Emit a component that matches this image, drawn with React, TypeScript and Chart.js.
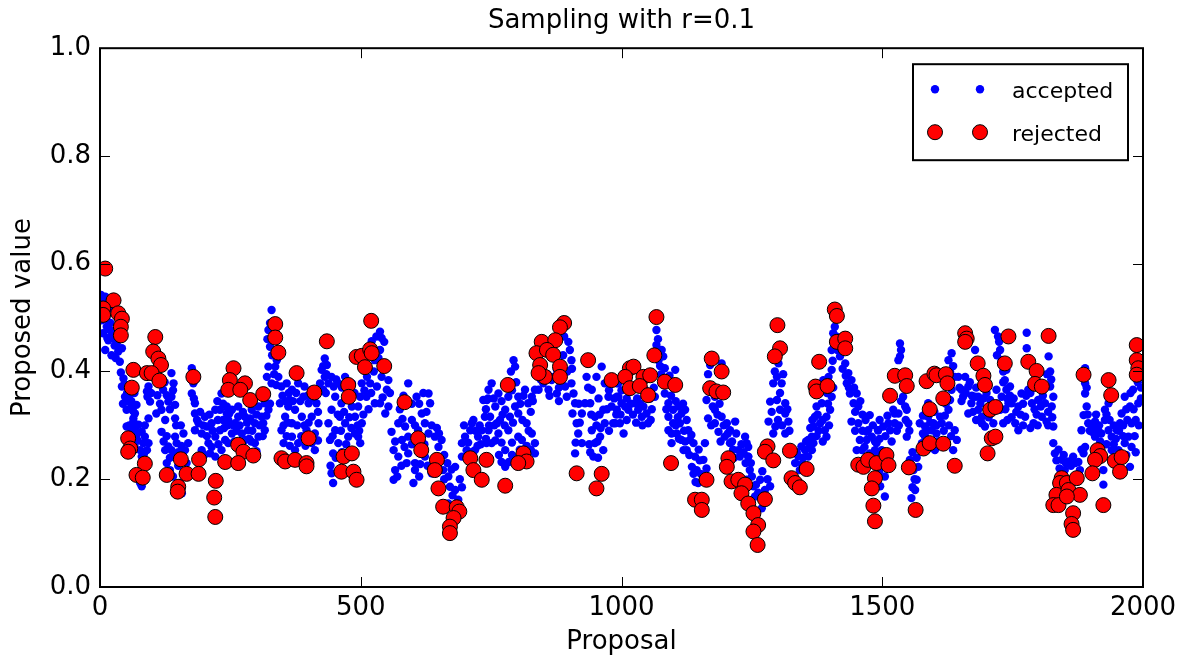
import React, { useEffect, useRef } from "react";
import { Chart, registerables } from "chart.js";

Chart.register(...registerables);

const chartTitle = "Sampling with r=0.1";
const xAxisLabel = "Proposal";
const yAxisLabel = "Proposed value";
const seriesNames = ["accepted", "rejected"];
const xTicks = [0, 500, 1000, 1500, 2000];
const yTicks = [0, 0.2, 0.4, 0.6, 0.8, 1.0];

type Pt = [number, number];

// accepted proposals (proposal index, value)
const accepted0: Pt[] = [
  [2,0.542],[10,0.539],[5,0.523],[16,0.517],[3,0.495],[13,0.483],[6,0.471],[19,0.477],[16,0.458],[10,0.440],[26,0.461],[32,0.452],[42,0.443],[38,0.418],
  [45,0.387],[42,0.372],[48,0.353],[54,0.344],[61,0.335],[51,0.329],[67,0.322],[64,0.313],[70,0.338],[58,0.365],
  [51,0.298],[64,0.307],[74,0.301],[80,0.288],[86,0.279],[93,0.313],[70,0.282],[83,0.267],[90,0.254],[80,0.242],[61,0.291],[77,0.254],[77,0.193],[80,0.187],
  [93,0.372],[96,0.344],[91,0.353],[118,0.329],[121,0.366],[137,0.397],[141,0.378],[137,0.353],[144,0.338],[125,0.310],[144,0.313],[131,0.344],[90,0.363],
  [118,0.288],[125,0.254],[131,0.261],[137,0.254],[144,0.279],[147,0.267],[160,0.285],[163,0.254],[166,0.230],[157,0.174],[153,0.193],[128,0.230],[134,0.217],[169,0.267],[141,0.242],
  [176,0.406],[179,0.378],[176,0.359],[182,0.341],[173,0.390],
  [182,0.322],[189,0.304],[201,0.316],[205,0.298],[221,0.329],[230,0.329],[236,0.310],[230,0.291],[240,0.273],[221,0.279],[208,0.267],[195,0.254],[189,0.230],[211,0.248],[221,0.242],[233,0.254],[182,0.291],[243,0.322],[233,0.359],[214,0.304],[195,0.285],
  [4,0.530],[8,0.505],[12,0.498],[20,0.490],[24,0.470],[28,0.448],[35,0.437],[14,0.462],[22,0.430],[30,0.425],
  [40,0.398],[47,0.376],[52,0.360],[56,0.350],[63,0.327],[60,0.345],[66,0.360],[44,0.340],
  [56,0.300],[68,0.296],[72,0.272],[86,0.300],[84,0.246],[93,0.267],[66,0.262],[88,0.232],
  [98,0.360],[104,0.388],[110,0.356],[115,0.340],[128,0.356],[134,0.330],[140,0.365],[108,0.322],[124,0.380],
  [122,0.270],[128,0.280],[134,0.240],[150,0.250],[156,0.262],[160,0.210],[150,0.225],[140,0.205],[146,0.300],[155,0.300],
  [178,0.395],[180,0.350],
  [186,0.310],[192,0.325],[198,0.300],[205,0.280],[210,0.320],[216,0.290],[226,0.310],[227,0.265],[238,0.295],[245,0.300],[200,0.245],[214,0.260],[236,0.340],[225,0.345],
];
const accepted1: Pt[] = [
  [329,0.514],[323,0.477],[326,0.446],[323,0.409],[320,0.390],[329,0.378],[339,0.421],[336,0.409],[342,0.390],
  [243,0.335],[253,0.329],[265,0.335],[246,0.310],[259,0.304],[278,0.316],[291,0.329],[304,0.335],[316,0.341],[323,0.329],[310,0.316],[297,0.304],[284,0.291],[272,0.285],[253,0.285],[246,0.267],[304,0.279],[316,0.291],[297,0.267],[278,0.273],[265,0.316],[288,0.313],[313,0.304],
  [348,0.372],[358,0.378],[368,0.366],[380,0.378],[390,0.353],[400,0.341],[406,0.366],[415,0.341],[422,0.378],[345,0.341],[361,0.335],[374,0.329],[355,0.316],[368,0.304],[387,0.316],[406,0.316],[419,0.304],[348,0.291],[368,0.279],[380,0.267],[396,0.291],[406,0.267],[352,0.267],[374,0.254],[412,0.254],[364,0.347],
  [431,0.424],[435,0.412],[425,0.403],[431,0.390],[438,0.378],[428,0.366],
  [444,0.390],[457,0.378],[470,0.390],[483,0.378],[451,0.353],[463,0.341],[444,0.329],[438,0.304],[451,0.291],[470,0.304],[489,0.316],[495,0.335],[441,0.273],[457,0.267],[476,0.279],[489,0.285],[447,0.248],[444,0.211],[447,0.193],[460,0.316],[483,0.335],
  [248,0.322],[256,0.300],[262,0.290],[268,0.300],[274,0.325],[282,0.305],[286,0.275],[292,0.290],[300,0.320],[306,0.300],[312,0.280],[319,0.318],[258,0.270],[270,0.260],[290,0.270],[300,0.252],[326,0.340],
  [326,0.490],[321,0.460],[330,0.430],[334,0.395],[338,0.375],
  [350,0.355],[356,0.345],[362,0.360],[370,0.345],[376,0.360],[384,0.345],[392,0.372],[398,0.355],[410,0.350],[418,0.325],[352,0.300],[360,0.305],[378,0.300],[392,0.300],[400,0.305],[412,0.285],[358,0.280],[386,0.280],[364,0.262],[394,0.262],[418,0.272],
  [428,0.410],[434,0.395],[433,0.360],
  [448,0.372],[453,0.385],[464,0.370],[476,0.365],[488,0.360],[456,0.320],[468,0.325],[478,0.315],[494,0.300],[446,0.280],[462,0.290],[482,0.295],[452,0.240],[442,0.225],[464,0.250],[472,0.265],
];
const accepted2: Pt[] = [
  [537,0.474],[540,0.462],[521,0.456],[537,0.440],[527,0.421],[518,0.378],[502,0.378],[540,0.390],[553,0.384],[531,0.372],[550,0.366],[511,0.353],[537,0.341],[553,0.335],[499,0.353],[547,0.322],[502,0.304],[495,0.279],[499,0.267],[527,0.341],
  [591,0.378],[607,0.353],[630,0.359],[633,0.341],[572,0.304],[585,0.298],[598,0.310],[617,0.322],[623,0.304],[559,0.288],[579,0.273],[591,0.279],[610,0.291],[630,0.285],[642,0.279],[655,0.273],[563,0.254],[572,0.242],[591,0.248],[604,0.230],[623,0.242],[566,0.217],[563,0.199],[601,0.193],[604,0.217],[636,0.211],[658,0.217],[668,0.205],[681,0.223],[671,0.186],[681,0.180],[687,0.162],[668,0.155],[649,0.260],
  [694,0.267],[700,0.279],[710,0.291],[713,0.304],[725,0.279],[732,0.291],[738,0.316],[735,0.347],[745,0.366],[719,0.254],[703,0.254],[741,0.267],[694,0.242],
  [530,0.465],[545,0.455],[534,0.425],[546,0.405],[525,0.400],[512,0.390],[507,0.365],[520,0.360],[542,0.352],[556,0.360],[515,0.330],[505,0.320],[497,0.290],
  [575,0.330],[582,0.355],[598,0.340],[612,0.340],[620,0.360],[626,0.325],[580,0.312],[604,0.300],[566,0.270],[584,0.260],[598,0.265],[615,0.270],[622,0.265],[636,0.300],[646,0.295],[650,0.285],[578,0.225],[588,0.230],[614,0.228],[628,0.225],[646,0.240],[660,0.245],[666,0.230],[674,0.218],[690,0.200],[694,0.185],[676,0.170],[660,0.200],[570,0.205],[612,0.205],
  [698,0.300],[706,0.268],[716,0.310],[720,0.290],[728,0.300],[730,0.265],[740,0.330],[746,0.300],[712,0.250],[724,0.262],[744,0.350],
];
const accepted3: Pt[] = [
  [793,0.421],[796,0.409],[751,0.378],[764,0.359],[783,0.353],[802,0.353],[742,0.347],[758,0.335],[777,0.329],[796,0.335],[821,0.341],[834,0.366],[815,0.366],[748,0.316],[767,0.310],[786,0.316],[802,0.322],[818,0.304],[745,0.291],[764,0.285],[783,0.291],[802,0.279],[828,0.285],[834,0.267],[751,0.267],[777,0.254],[809,0.273],[834,0.248],[777,0.223],[761,0.304],
  [898,0.455],[901,0.440],[904,0.421],[876,0.403],[885,0.378],[860,0.366],[841,0.366],[828,0.353],[876,0.359],[904,0.378],[866,0.384],[850,0.378],[895,0.353],
  [908,0.359],[911,0.341],[924,0.322],[914,0.304],[917,0.285],[924,0.267],[911,0.248],[930,0.341],
  [933,0.390],[943,0.366],[940,0.341],[949,0.316],[943,0.291],[949,0.267],[946,0.242],[962,0.409],[968,0.378],[975,0.353],[965,0.329],[981,0.335],[968,0.304],[984,0.304],[991,0.353],[994,0.378],[959,0.279],[965,0.254],
  [755,0.350],[770,0.345],[790,0.365],[798,0.380],[788,0.400],[806,0.340],[812,0.355],[826,0.325],[830,0.345],[772,0.320],[792,0.305],[810,0.310],[756,0.300],[776,0.300],[822,0.290],[740,0.275],[758,0.272],[770,0.268],[790,0.268],[818,0.262],[826,0.255],[765,0.245],[790,0.245],[805,0.255],[770,0.232],[784,0.232],
  [845,0.385],[858,0.395],[870,0.390],[880,0.370],[892,0.372],[896,0.400],[888,0.430],[905,0.405],[862,0.355],[880,0.345],[890,0.465],
  [906,0.322],[918,0.340],[920,0.305],[912,0.268],
  [936,0.370],[942,0.320],[952,0.390],[956,0.350],[958,0.320],[972,0.330],[976,0.365],[986,0.350],[990,0.320],[952,0.300],[960,0.295],[976,0.290],[938,0.265],[954,0.270],[955,0.240],[940,0.250],
];
const accepted4: Pt[] = [
  [991,0.378],[994,0.353],[1000,0.341],[991,0.329],[1007,0.335],[997,0.304],[1004,0.285],[1013,0.329],[1026,0.341],[1032,0.329],[1039,0.316],[1048,0.322],[1051,0.304],[1045,0.366],[1055,0.350],[1064,0.353],[988,0.304],
  [1067,0.477],[1067,0.449],[1077,0.440],[1071,0.421],[1080,0.428],[1083,0.406],[1103,0.403],
  [1083,0.359],[1090,0.341],[1099,0.329],[1109,0.335],[1115,0.322],[1122,0.329],[1090,0.316],[1099,0.304],[1112,0.304],[1125,0.310],[1090,0.291],[1106,0.285],[1115,0.273],[1128,0.291],[1131,0.273],[1096,0.267],[1119,0.254],[1125,0.254],[1138,0.267],[1141,0.242],[1135,0.223],[1144,0.217],[1147,0.193],[1157,0.236],[1160,0.267],[1163,0.220],
  [1170,0.412],[1192,0.415],[1163,0.347],[1179,0.353],[1166,0.313],[1179,0.304],[1192,0.316],[1202,0.304],[1186,0.288],[1198,0.279],[1208,0.291],[1218,0.307],[1208,0.267],[1224,0.254],[1237,0.279],[1227,0.242],[1243,0.242],[1243,0.260],[1179,0.329],
  [1000,0.365],[1010,0.350],[1018,0.340],[1022,0.320],[1030,0.350],[1036,0.340],[1042,0.335],[1058,0.330],[1062,0.370],[1020,0.365],[1028,0.305],[1010,0.310],[998,0.320],[1040,0.300],[1056,0.310],
  [1070,0.460],[1074,0.410],[1076,0.395],[1086,0.385],[1092,0.392],
  [1086,0.330],[1095,0.355],[1104,0.345],[1108,0.315],[1118,0.340],[1104,0.300],[1120,0.290],[1096,0.285],[1110,0.275],[1122,0.270],[1134,0.282],[1130,0.245],[1148,0.255],[1150,0.235],[1138,0.210],[1152,0.210],[1142,0.195],
  [1166,0.395],[1168,0.375],[1175,0.335],[1172,0.300],[1184,0.320],[1188,0.340],[1196,0.300],[1190,0.270],[1204,0.285],[1212,0.270],[1214,0.255],[1220,0.285],[1230,0.265],[1234,0.250],[1238,0.230],[1216,0.240],
];
const accepted5: Pt[] = [
  [1240,0.267],[1243,0.242],[1246,0.217],[1240,0.199],[1253,0.187],
  [1266,0.199],[1275,0.180],[1256,0.168],[1269,0.146],[1285,0.187],
  [1301,0.415],[1298,0.390],[1291,0.378],[1307,0.378],[1285,0.344],[1298,0.347],[1304,0.329],[1314,0.341],[1314,0.322],[1282,0.307],[1320,0.307],[1291,0.285],[1314,0.285],
  [1339,0.242],[1345,0.261],[1352,0.254],[1358,0.273],[1365,0.279],[1368,0.298],[1371,0.316],[1374,0.335],[1384,0.341],[1381,0.304],[1393,0.316],[1390,0.291],[1400,0.329],[1403,0.353],[1403,0.403],[1397,0.390],[1387,0.384],[1393,0.279],[1368,0.267],[1358,0.242],[1333,0.230],[1342,0.217],[1365,0.254],
  [1409,0.483],[1406,0.471],[1409,0.455],[1403,0.440],[1419,0.428],
  [1429,0.415],[1435,0.397],[1432,0.378],[1441,0.384],[1438,0.359],[1451,0.359],[1445,0.341],[1454,0.335],[1476,0.319],[1441,0.307],[1454,0.304],[1470,0.288],[1473,0.291],[1457,0.273],[1470,0.273],[1480,0.279],[1492,0.291],[1461,0.254],[1476,0.248],[1451,0.254],
  [1248,0.230],[1250,0.205],[1258,0.190],[1262,0.175],[1272,0.160],[1280,0.200],[1270,0.215],
  [1294,0.400],[1304,0.360],[1310,0.395],[1288,0.325],[1300,0.310],[1308,0.300],[1318,0.330],[1295,0.298],[1322,0.290],
  [1336,0.250],[1348,0.240],[1354,0.270],[1362,0.295],[1366,0.310],[1376,0.320],[1378,0.290],[1386,0.310],[1396,0.340],[1398,0.300],[1406,0.370],[1394,0.360],[1380,0.360],[1374,0.280],[1386,0.270],[1346,0.228],[1360,0.258],
  [1412,0.465],[1405,0.420],[1414,0.440],
  [1424,0.405],[1430,0.392],[1436,0.370],[1446,0.370],[1448,0.325],[1458,0.345],[1462,0.320],[1468,0.310],[1448,0.290],[1462,0.290],[1482,0.300],[1486,0.270],[1466,0.260],[1488,0.250],[1495,0.275],
];
const accepted6: Pt[] = [
  [1492,0.291],[1502,0.298],[1512,0.304],[1489,0.267],[1499,0.254],[1515,0.291],[1524,0.304],[1531,0.322],[1521,0.329],[1505,0.205],[1505,0.168],[1496,0.187],[1486,0.254],
  [1534,0.452],[1534,0.428],[1531,0.421],[1540,0.353],[1544,0.335],[1547,0.329],[1524,0.322],[1550,0.304],[1547,0.279],
  [1553,0.236],[1560,0.217],[1566,0.199],[1563,0.180],[1556,0.165],[1569,0.223],
  [1572,0.304],[1582,0.298],[1588,0.316],[1598,0.304],[1614,0.304],[1604,0.285],[1582,0.279],[1595,0.291],[1576,0.267],[1601,0.254],[1627,0.329],[1630,0.347],[1633,0.366],[1627,0.421],[1633,0.434],[1639,0.390],[1639,0.291],[1643,0.273],[1636,0.254],[1588,0.341],[1611,0.316],
  [1646,0.390],[1652,0.366],[1659,0.390],[1655,0.353],[1665,0.372],[1678,0.353],[1671,0.341],[1684,0.329],[1665,0.322],[1691,0.304],[1697,0.298],[1684,0.353],[1678,0.440],[1716,0.477],[1722,0.465],[1726,0.440],[1729,0.421],[1738,0.403],[1738,0.366],[1729,0.353],[1719,0.366],[1726,0.329],[1732,0.304],[1742,0.341],[1707,0.347],[1691,0.316],[1713,0.304],
  [1495,0.310],[1506,0.280],[1510,0.318],[1518,0.270],[1528,0.290],[1500,0.230],[1494,0.215],
  [1536,0.440],[1538,0.395],[1542,0.370],[1536,0.345],[1545,0.310],[1552,0.290],[1532,0.300],
  [1558,0.250],[1562,0.200],[1566,0.240],[1558,0.185],
  [1578,0.318],[1586,0.290],[1592,0.305],[1600,0.325],[1604,0.300],[1608,0.270],[1618,0.290],[1620,0.318],[1622,0.340],[1628,0.300],[1632,0.280],[1630,0.400],[1636,0.410],[1578,0.285],[1596,0.268],[1614,0.262],[1624,0.265],[1586,0.255],
  [1648,0.370],[1652,0.345],[1660,0.360],[1668,0.380],[1672,0.355],[1680,0.370],[1688,0.340],[1694,0.350],[1700,0.330],[1704,0.315],[1712,0.330],[1720,0.340],[1732,0.380],[1736,0.330],[1740,0.310],[1724,0.455],[1720,0.430],[1732,0.400],[1674,0.325],[1700,0.360],[1680,0.310],[1745,0.355],
];
const accepted7: Pt[] = [
  [1777,0.472],[1777,0.443],[1735,0.384],[1745,0.372],[1748,0.341],[1761,0.335],[1767,0.359],[1780,0.366],[1787,0.341],[1799,0.347],[1812,0.341],[1825,0.335],[1819,0.428],[1822,0.400],[1822,0.372],[1828,0.353],[1755,0.304],[1774,0.316],[1790,0.304],[1806,0.316],[1815,0.307],[1828,0.298],[1761,0.291],
  [1828,0.267],[1831,0.248],[1844,0.236],[1857,0.233],[1870,0.230],[1850,0.217],[1879,0.217],[1886,0.248],[1889,0.260],[1924,0.190],
  [1889,0.406],[1889,0.378],[1889,0.359],[1892,0.335],[1886,0.319],[1895,0.304],[1882,0.291],[1902,0.288],[1908,0.307],[1914,0.291],[1908,0.279],[1927,0.329],[1934,0.341],[1927,0.310],[1940,0.279],[1950,0.291],[1956,0.304],[1965,0.353],[1975,0.335],[1978,0.304],[1972,0.279],[1978,0.260],[1965,0.267],[1981,0.366],[1991,0.341],[1953,0.254],[1975,0.223],[1959,0.322],[1934,0.291],[1924,0.217],[1940,0.254],[1998,0.400],[1996,0.370],
  [1752,0.350],[1757,0.325],[1765,0.320],[1770,0.340],[1776,0.355],[1784,0.360],[1792,0.330],[1796,0.320],[1804,0.335],[1808,0.355],[1818,0.325],[1818,0.300],[1826,0.315],[1816,0.395],[1824,0.385],[1770,0.300],[1784,0.295],[1748,0.315],[1740,0.350],[1798,0.300],
  [1834,0.235],[1838,0.255],[1848,0.245],[1852,0.230],[1862,0.225],[1866,0.242],[1876,0.232],[1882,0.255],[1840,0.220],
  [1886,0.390],[1892,0.370],[1894,0.320],[1898,0.290],[1904,0.300],[1910,0.320],[1916,0.300],[1920,0.285],[1930,0.320],[1936,0.310],[1944,0.300],[1948,0.275],[1954,0.290],[1962,0.300],[1968,0.330],[1970,0.310],[1982,0.330],[1986,0.310],[1984,0.280],[1992,0.300],[1996,0.350],[1962,0.280],[1944,0.265],[1930,0.265],[1918,0.270],[1968,0.245],[1986,0.250],[1990,0.380],[1976,0.360],
];

// rejected proposals (proposal index, value)
const rejected0: Pt[] = [
  [10,0.591],[26,0.532],[6,0.517],[6,0.505],[35,0.508],[42,0.498],[40,0.483],[40,0.467],[64,0.403],[61,0.370],[106,0.464],[102,0.437],[112,0.424],[117,0.412],[90,0.397],[99,0.397],[114,0.383],[179,0.390],[54,0.276],[58,0.257],[54,0.251],[86,0.229],[70,0.208],[82,0.203],[128,0.208],[155,0.237],[150,0.186],[149,0.177],[166,0.210],[190,0.237],[189,0.210],[240,0.232],[222,0.197],[219,0.166],[221,0.130],
];
const rejected1: Pt[] = [
  [256,0.406],[249,0.384],[246,0.366],[278,0.378],[269,0.366],[288,0.347],[313,0.358],[336,0.488],[336,0.463],[342,0.435],[377,0.397],[411,0.361],[400,0.276],[435,0.456],[476,0.375],[477,0.353],[492,0.427],[265,0.264],[275,0.251],[294,0.244],[265,0.230],[348,0.239],[355,0.233],[374,0.236],[396,0.230],[396,0.224],[467,0.242],[483,0.248],[463,0.214],[486,0.214],[492,0.199],
];
const rejected2: Pt[] = [
  [520,0.494],[502,0.429],[518,0.441],[521,0.434],[508,0.408],[545,0.410],[584,0.343],[610,0.276],[616,0.254],[646,0.236],[642,0.217],[649,0.183],[658,0.149],[684,0.148],[689,0.140],[678,0.128],[671,0.112],[671,0.100],[710,0.239],[716,0.217],[732,0.199],[741,0.236],
];
const rejected3: Pt[] = [
  [890,0.490],[882,0.482],[847,0.455],[873,0.458],[837,0.434],[857,0.440],[869,0.431],[844,0.412],[882,0.409],[853,0.390],[882,0.390],[841,0.397],[936,0.421],[981,0.384],[782,0.375],[812,0.248],[818,0.233],[802,0.230],[777,0.188],[914,0.211],[962,0.210],[952,0.183],
];
const rejected4: Pt[] = [
  [1067,0.501],[1063,0.430],[1016,0.406],[1023,0.409],[1007,0.390],[1016,0.369],[1042,0.390],[1035,0.373],[1051,0.356],[1055,0.393],[1083,0.381],[1103,0.375],[1095,0.230],[1173,0.424],[1192,0.400],[1170,0.369],[1182,0.363],[1195,0.361],[1163,0.199],[1141,0.162],[1154,0.162],[1154,0.143],[1205,0.239],[1202,0.223],[1211,0.196],[1224,0.199],[1237,0.190],[1230,0.174],[1243,0.155],
];
const rejected5: Pt[] = [
  [1299,0.486],[1304,0.443],[1294,0.428],[1379,0.418],[1372,0.372],[1374,0.363],[1395,0.373],[1409,0.515],[1413,0.503],[1413,0.455],[1429,0.461],[1429,0.443],[1280,0.261],[1275,0.251],[1291,0.235],[1323,0.253],[1355,0.219],[1326,0.202],[1333,0.193],[1342,0.185],[1253,0.137],[1262,0.115],[1275,0.163],[1253,0.103],[1261,0.078],[1454,0.227],[1464,0.223],[1473,0.236],[1489,0.230],[1486,0.202],[1480,0.183],[1483,0.151],[1486,0.122],
];
const rejected6: Pt[] = [
  [1659,0.471],[1662,0.461],[1659,0.455],[1742,0.465],[1683,0.415],[1735,0.415],[1524,0.392],[1544,0.393],[1547,0.373],[1515,0.355],[1585,0.382],[1600,0.396],[1604,0.393],[1622,0.395],[1625,0.378],[1617,0.350],[1591,0.330],[1694,0.392],[1697,0.375],[1707,0.329],[1717,0.334],[1710,0.276],[1717,0.279],[1702,0.248],[1508,0.245],[1512,0.226],[1551,0.222],[1579,0.257],[1591,0.267],[1617,0.266],[1639,0.225],[1564,0.143],
];
const rejected7: Pt[] = [
  [1819,0.466],[1780,0.418],[1796,0.401],[1793,0.377],[1806,0.372],[1886,0.394],[1934,0.384],[1939,0.356],[1988,0.449],[1988,0.421],[1991,0.406],[1988,0.394],[1913,0.254],[1918,0.243],[1908,0.236],[1946,0.234],[1959,0.241],[1956,0.214],[1903,0.211],[1924,0.152],[1844,0.202],[1841,0.193],[1854,0.193],[1873,0.202],[1834,0.171],[1828,0.152],[1838,0.152],[1857,0.180],[1866,0.137],[1863,0.117],[1866,0.106],[1879,0.171],[1854,0.168],
];

const acceptedAll = [accepted0, accepted1, accepted2, accepted3, accepted4, accepted5, accepted6, accepted7].flat();
const rejectedAll = [rejected0, rejected1, rejected2, rejected3, rejected4, rejected5, rejected6, rejected7].flat();

const FONT = "'DejaVu Sans', 'Liberation Sans', sans-serif";
const BLUE = "#0000ff";
const RED = "#ff0000";

const framePlugin = {
  id: "mplFrame",
  afterDatasetsDraw(chart: any) {
    const { ctx, chartArea } = chart;
    const { left, right, top, bottom } = chartArea;
    const xs = chart.scales.x;
    const ys = chart.scales.y;
    ctx.save();
    ctx.strokeStyle = "#000";
    ctx.lineWidth = 1;
    const tl = 10;
    ctx.beginPath();
    xTicks.forEach((v) => {
      const p = Math.round(xs.getPixelForValue(v)) + 0.5;
      ctx.moveTo(p, bottom);
      ctx.lineTo(p, bottom - tl);
      ctx.moveTo(p, top);
      ctx.lineTo(p, top + tl);
    });
    yTicks.forEach((v) => {
      const p = Math.round(ys.getPixelForValue(v)) + 0.5;
      ctx.moveTo(left, p);
      ctx.lineTo(left + tl, p);
      ctx.moveTo(right, p);
      ctx.lineTo(right - tl, p);
    });
    ctx.stroke();
    ctx.lineWidth = 2;
    ctx.strokeRect(left, top, right - left, bottom - top);
    ctx.restore();
  },
};

const legendPlugin = {
  id: "mplLegend",
  afterDraw(chart: any) {
    const { ctx, chartArea } = chart;
    const w = 215;
    const h = 96;
    const bx = chartArea.right - 15 - w;
    const by = chartArea.top + 16;
    ctx.save();
    ctx.fillStyle = "#fff";
    ctx.fillRect(bx, by, w, h);
    ctx.strokeStyle = "#000";
    ctx.lineWidth = 2;
    ctx.strokeRect(bx, by, w, h);
    const rows = [
      { name: seriesNames[0], y: by + 25, r: 4.2, fill: BLUE, stroke: false },
      { name: seriesNames[1], y: by + 68, r: 7.5, fill: RED, stroke: true },
    ];
    rows.forEach((row) => {
      [bx + 22, bx + 67].forEach((mx) => {
        ctx.beginPath();
        ctx.arc(mx, row.y, row.r, 0, Math.PI * 2);
        ctx.fillStyle = row.fill;
        ctx.fill();
        if (row.stroke) {
          ctx.lineWidth = 1;
          ctx.strokeStyle = "#000";
          ctx.stroke();
        }
      });
      ctx.fillStyle = "#000";
      ctx.font = `22px ${FONT}`;
      ctx.textBaseline = "middle";
      ctx.textAlign = "left";
      ctx.fillText(row.name, bx + 99, row.y + 3.5);
    });
    ctx.restore();
  },
};

export default function App() {
  const ref = useRef<HTMLCanvasElement>(null);
  useEffect(() => {
    document.body.style.margin = "0";
    const canvas = ref.current;
    if (!canvas) return;
    const toPts = (arr: Pt[]) => arr.map(([x, y]) => ({ x, y }));
    const tickFont = { family: FONT, size: 26, weight: "normal" as const, lineHeight: 1.2 };
    const chart = new Chart(canvas, {
      type: "scatter",
      data: {
        datasets: [
          {
            label: seriesNames[1],
            data: toPts(rejectedAll),
            pointRadius: 7.5,
            pointHoverRadius: 7.5,
            backgroundColor: RED,
            borderColor: "#000",
            borderWidth: 1,
            order: 0,
            clip: 0,
          },
          {
            label: seriesNames[0],
            data: toPts(acceptedAll),
            pointRadius: 4.2,
            pointHoverRadius: 4.2,
            backgroundColor: BLUE,
            borderColor: BLUE,
            borderWidth: 0,
            order: 1,
            clip: 0,
          },
        ],
      },
      options: {
        animation: false,
        responsive: false,
        devicePixelRatio: 1,
        events: [],
        layout: { padding: { left: 0, right: 45, top: 0, bottom: 0 } },
        plugins: {
          legend: { display: false },
          tooltip: { enabled: false },
          title: {
            display: true,
            fullSize: false,
            text: chartTitle,
            color: "#000",
            font: { family: FONT, size: 26, weight: "normal", lineHeight: 1.2 },
            padding: { top: 6, bottom: 11 },
          },
        },
        scales: {
          x: {
            type: "linear",
            min: 0,
            max: 2000,
            afterBuildTicks: (s: any) => {
              s.ticks = xTicks.map((v) => ({ value: v }));
            },
            afterFit: (s: any) => {
              s.height = 74;
            },
            grid: { display: false, drawTicks: false },
            border: { display: false },
            ticks: {
              color: "#000",
              font: tickFont,
              padding: 6,
              maxRotation: 0,
              autoSkip: false,
              callback: (v: any) => String(v),
            },
            title: {
              display: true,
              text: xAxisLabel,
              color: "#000",
              font: tickFont,
              padding: { top: 0, bottom: 3 },
            },
          },
          y: {
            type: "linear",
            min: 0,
            max: 1,
            afterBuildTicks: (s: any) => {
              s.ticks = yTicks.map((v) => ({ value: v }));
            },
            afterFit: (s: any) => {
              s.width = 100;
            },
            grid: { display: false, drawTicks: false },
            border: { display: false },
            ticks: {
              color: "#000",
              font: tickFont,
              padding: 9,
              autoSkip: false,
              callback: (v: any) => Number(v).toFixed(1),
            },
            title: {
              display: true,
              text: yAxisLabel,
              color: "#000",
              font: tickFont,
              padding: { top: 8, bottom: 0 },
            },
          },
        },
      },
      plugins: [framePlugin, legendPlugin],
    } as any);
    return () => chart.destroy();
  }, []);
  return (
    <div style={{ width: 1188, height: 661 }}>
      <canvas ref={ref} width={1188} height={661} style={{ display: "block" }} />
    </div>
  );
}
